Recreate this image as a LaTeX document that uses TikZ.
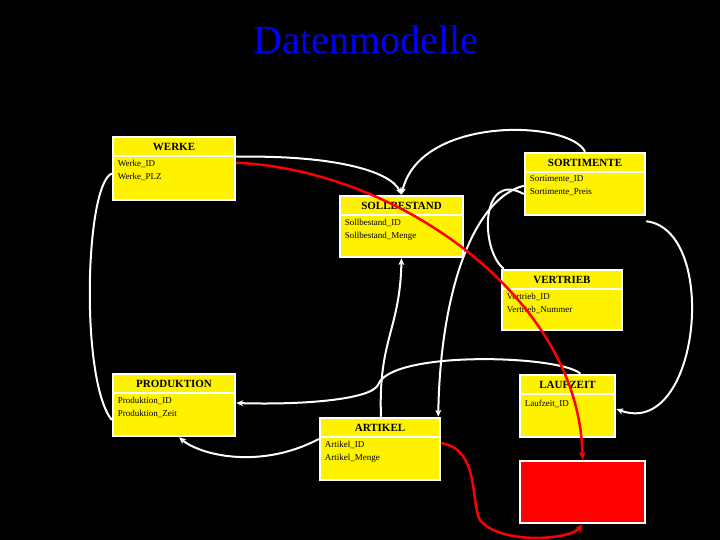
\documentclass[tikz,border=0pt]{standalone}
\usepackage{fontspec}
\setmainfont{Liberation Serif}
\usetikzlibrary{arrows.meta}
\tikzset{
 ebox/.style={draw=white,line width=2.5pt,fill=yellow,inner sep=0pt},
 etitle/.style={font=\bfseries\fontsize{11}{12}\selectfont,inner sep=0pt},
 ebody/.style={font=\fontsize{9}{13}\selectfont,align=left,inner sep=0pt,anchor=north west},
 wl/.style={draw=white,line width=2pt},
 wa/.style={wl,-{Stealth[length=7pt,width=6pt]}},
 ra/.style={draw=red,line width=2.5pt,-{Stealth[length=8pt,width=7pt]}}
}
\newcommand\ent[7]{%
 \node[ebox,minimum width=#4pt,minimum height=#5pt] (#1) at (#2,#3) {};
 \draw[white,line width=2pt] ([yshift=-20pt]#1.north west) -- ([yshift=-20pt]#1.north east);
 \node[etitle] (#1t) at ([yshift=-11pt]#1.north) {#6};
 \node[ebody] (#1b) at ([xshift=6pt,yshift=-24pt]#1.north west) {#7};
}
\begin{document}
\begin{tikzpicture}[x=1pt,y=-1pt]
\fill[black] (0,0) rectangle (720,540);
\useasboundingbox (0,0) rectangle (720,540);
\node[text=blue,font=\fontsize{40}{44}\selectfont] (title) at (366,40) {Datenmodelle};
\ent{werke}{174}{168.5}{122}{63}{WERKE}{Werke\_ID\\Werke\_PLZ}
\ent{sort}{585}{184}{120}{62}{SORTIMENTE}{Sortimente\_ID\\Sortimente\_Preis}
\ent{soll}{401.5}{226.5}{123}{61}{SOLLBESTAND}{Sollbestand\_ID\\Sollbestand\_Menge}
\ent{vert}{562}{300}{120}{60}{VERTRIEB}{Vertrieb\_ID\\Vertrieb\_Nummer}
\ent{prod}{174}{405}{122}{62}{PRODUKTION}{Produktion\_ID\\Produktion\_Zeit}
\ent{lauf}{567.5}{406}{95}{62}{LAUFZEIT}{\\[-4pt]Laufzeit\_ID}
\ent{art}{380}{449}{120}{62}{ARTIKEL}{Artikel\_ID\\Artikel\_Menge}
\node[draw=white,line width=2.5pt,fill=red,minimum width=125pt,minimum height=62pt] (rbox) at (582.5,492) {};
% white connectors
\draw[wa] ([yshift=-21pt]werke.north east) .. controls (330,155) and (390,170) .. (soll.north);
\draw[wa] (sort.north) .. controls (570,120) and (420,115) .. (soll.north);
\draw[wl] ([yshift=-5pt]werke.west) .. controls (85,185) and (80,380) .. ([yshift=-15pt]prod.west);
\draw[wl] ([yshift=-10pt]sort.west) .. controls (480,170) and (480,250) .. ([xshift=3pt]vert.north west);
\draw[wa] ([yshift=-34pt]sort.north west) .. controls (470,200) and (440,300) .. ([xshift=-3pt]art.north east);
\draw[wa] ([yshift=-5pt]sort.south east) .. controls (720,230) and (700,440) .. ([yshift=-3pt]lauf.east);
\draw[wa] ([xshift=1pt]art.north) .. controls (378,340) and (400,330) .. (soll.south);
\draw[wa] ([xshift=13pt]lauf.north) .. controls (560,355) and (390,350) .. (378,385) .. controls (370,400) and (300,405) .. ([yshift=2pt]prod.east);
\draw[wa] ([yshift=10pt]art.west) .. controls (260,470) and (200,455) .. ([xshift=5pt]prod.south);
% red connectors
\draw[ra] ([yshift=-27pt]werke.north east) .. controls (400,170) and (580,300) .. (rbox.north);
\draw[ra] ([yshift=6pt]art.east) .. controls (480,450) and (470,500) .. (480,520) .. controls (500,545) and (570,540) .. (rbox.south);
\end{tikzpicture}
\end{document}
